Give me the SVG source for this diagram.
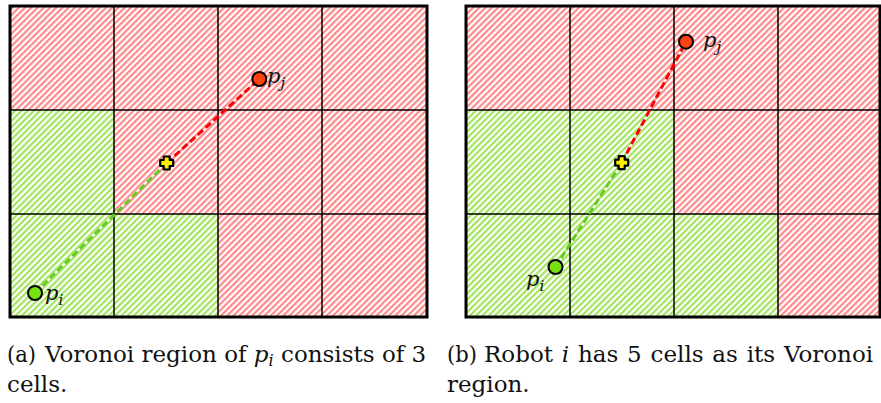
<svg xmlns="http://www.w3.org/2000/svg" width="881" height="403" viewBox="0 0 881 403">
<style>
.grid{stroke:#000;stroke-width:1.5;fill:none}
.border{stroke:#000;stroke-width:3;fill:none}
.red{fill:url(#hatchRed)}
.green{fill:url(#hatchGreen)}
.dg{stroke:#66cc22;stroke-width:3;stroke-dasharray:7,3.5;fill:none}
.dr{stroke:#ff0000;stroke-width:3;stroke-dasharray:7,3.5;fill:none}
.pi{fill:#77e010;stroke:#000;stroke-width:2}
.pj{fill:#ff4010;stroke:#000;stroke-width:2}
.plus{fill:#ffee00;stroke:#000;stroke-width:2.2;stroke-linejoin:round}
.lbl{font-family:"DejaVu Serif","Liberation Serif",serif;font-style:italic;font-size:21px;fill:#111}
.sub{font-size:15px}
.cap{font-family:"DejaVu Serif","Liberation Serif",serif;font-size:23px;fill:#111}
</style>
<defs>
<pattern id="hatchRed" patternUnits="userSpaceOnUse" width="4.4" height="10" patternTransform="rotate(45)">
<rect width="4.4" height="10" fill="#fff"/><rect width="2.2" height="10" fill="#ff8a8a"/>
</pattern>
<pattern id="hatchGreen" patternUnits="userSpaceOnUse" width="4.4" height="10" patternTransform="rotate(45)">
<rect width="4.4" height="10" fill="#fff"/><rect width="2.2" height="10" fill="#a2e45e"/>
</pattern>
<path id="plusShape" d="M-3,-6.5 H3 V-3 H6.5 V3 H3 V6.5 H-3 V3 H-6.5 V-3 H-3 Z"/>
</defs>

<g id="panelA">
<g id="cellsA">
<rect class="red" x="10" y="6" width="104" height="104"/>
<rect class="red" x="114" y="6" width="104" height="104"/>
<rect class="red" x="218" y="6" width="104" height="104"/>
<rect class="red" x="322" y="6" width="104" height="104"/>
<rect class="green" x="10" y="110" width="104" height="104"/>
<rect class="red" x="114" y="110" width="104" height="104"/>
<rect class="red" x="218" y="110" width="104" height="104"/>
<rect class="red" x="322" y="110" width="104" height="104"/>
<rect class="green" x="10" y="214" width="104" height="103"/>
<rect class="green" x="114" y="214" width="104" height="103"/>
<rect class="red" x="218" y="214" width="104" height="103"/>
<rect class="red" x="322" y="214" width="104" height="103"/>
</g>
<path class="grid" d="M114,6 V317 M218,6 V317 M322,6 V317 M10,110 H426 M10,214 H426"/>
<rect class="border" x="10" y="6" width="417" height="311"/>
</g>

<g id="panelB">
<g id="cellsB">
<rect class="red" x="466" y="6" width="104" height="104"/>
<rect class="red" x="570" y="6" width="104" height="104"/>
<rect class="red" x="674" y="6" width="104" height="104"/>
<rect class="red" x="778" y="6" width="104" height="104"/>
<rect class="green" x="466" y="110" width="104" height="104"/>
<rect class="green" x="570" y="110" width="104" height="104"/>
<rect class="red" x="674" y="110" width="104" height="104"/>
<rect class="red" x="778" y="110" width="104" height="104"/>
<rect class="green" x="466" y="214" width="104" height="103"/>
<rect class="green" x="570" y="214" width="104" height="103"/>
<rect class="green" x="674" y="214" width="104" height="103"/>
<rect class="red" x="778" y="214" width="104" height="103"/>
</g>
<path class="grid" d="M570,6 V317 M674,6 V317 M778,6 V317 M466,110 H882 M466,214 H882"/>
<rect class="border" x="466" y="6" width="414" height="311"/>
</g>

<g id="connectors">
<line class="dg" x1="35" y1="293" x2="166.7" y2="163"/>
<line class="dr" x1="166.7" y1="163" x2="259.3" y2="79"/>
<line class="dg" x1="555.5" y1="267" x2="621.7" y2="162.7"/>
<line class="dr" x1="621.7" y1="162.7" x2="686" y2="41.7"/>
</g>

<g id="pi_a"><circle class="pi" cx="35" cy="293" r="7"/><text class="lbl" x="45" y="300">p<tspan class="sub" dy="5">i</tspan></text></g>
<g id="pj_a"><circle class="pj" cx="259.3" cy="79" r="7"/><text class="lbl" x="267" y="83">p<tspan class="sub" dy="5">j</tspan></text></g>
<g id="mid_a"><use href="#plusShape" class="plus" transform="translate(166.7,163)"/></g>

<g id="pi_b"><circle class="pi" cx="555.5" cy="267" r="7"/><text class="lbl" x="526" y="286">p<tspan class="sub" dy="5">i</tspan></text></g>
<g id="pj_b"><circle class="pj" cx="686" cy="41.7" r="7"/><text class="lbl" x="703" y="47">p<tspan class="sub" dy="5">j</tspan></text></g>
<g id="mid_b"><use href="#plusShape" class="plus" transform="translate(621.7,162.7)"/></g>

<g id="captionA">
<text class="cap" x="7" y="362" textLength="29" lengthAdjust="spacingAndGlyphs">(a)</text>
<text class="cap" x="45" y="362">Voronoi region of <tspan font-style="italic">p</tspan><tspan font-style="italic" font-size="16" dy="4">i</tspan><tspan dy="-4"> consists of 3</tspan></text>
<text class="cap" x="7" y="392">cells.</text>
</g>
<g id="captionB">
<text class="cap" x="447" y="362" textLength="30" lengthAdjust="spacingAndGlyphs">(b)</text>
<text class="cap" x="484" y="362" word-spacing="1.5">Robot <tspan font-style="italic">i</tspan> has 5 cells as its Voronoi</text>
<text class="cap" x="447" y="392">region.</text>
</g>
</svg>
